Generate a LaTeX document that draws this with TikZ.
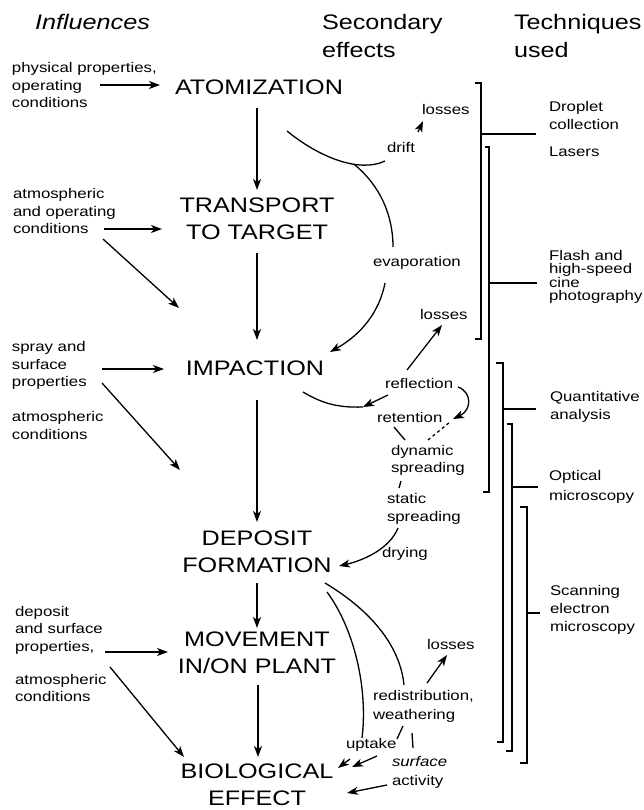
\documentclass[tikz,border=0pt]{standalone}
\usepackage{fontspec}
\setmainfont{Liberation Sans}[FakeStretch=1.2]
\usetikzlibrary{arrows.meta, calc}

\begin{document}
\begin{tikzpicture}[
      x=1pt, y=-1pt,
      every node/.style={inner sep=0pt, outer sep=0pt},
      head/.style={anchor=north west, align=left, font=\fontsize{21}{28}\selectfont},
      stage/.style={align=center, font=\fontsize{21}{27}\selectfont},
      small/.style={anchor=west, align=left, font=\fontsize{14}{17.5}\selectfont},
      conn/.style={line width=1.3pt},
      arrow/.style={conn, -{Stealth[length=11pt,width=8pt,inset=3pt]}},
      bracket/.style={line width=1.1pt}
    ]
      \useasboundingbox (0,0) rectangle (644,810);

      \node[head, font=\fontsize{21}{28}\selectfont\itshape] (hinf) at (35,14) {Influences};
      \node[head] (hsec) at (322,14) {Secondary\\effects};
      \node[head] (htech) at (514,14) {Techniques\\used};

      \node[stage] (atom) at (259,87) {ATOMIZATION};
      \node[stage] (trans) at (257,219) {TRANSPORT\\TO TARGET};
      \node[stage] (impact) at (255,368) {IMPACTION};
      \node[stage] (depos) at (257,552) {DEPOSIT\\FORMATION};
      \node[stage] (move) at (257,653) {MOVEMENT\\IN/ON PLANT};
      \node[stage] (bio) at (257,785) {BIOLOGICAL\\EFFECT};

      \node[small] (inphys) at (12,85) {physical properties,\\operating\\conditions};
      \node[small] (inatm) at (13,211) {atmospheric\\and operating\\conditions};
      \node[small] (inspray) at (12,365.5) {spray and\\surface\\properties};
      \node[small] (inatm2) at (12,425.5) {atmospheric\\conditions};
      \node[small] (indepo) at (15,630) {deposit\\and surface\\properties,};
      \node[small] (inatm3) at (15,688) {atmospheric\\conditions};

      \node[small] (loss1) at (422,109) {losses};
      \node[small] (drift) at (387,147) {drift};
      \node[small] (evap) at (373,263) {evaporation};
      \node[small] (loss2) at (420,314) {losses};
      \node[small] (refl) at (385,383) {reflection};
      \node[small] (reten) at (377,417) {retention};
      \node[small, font=\fontsize{14}{17}\selectfont] (dyn) at (391,460.5) {dynamic\\spreading};
      \node[small, font=\fontsize{14}{18}\selectfont] (stat) at (387,509) {static\\spreading};
      \node[small] (dry) at (382,554) {drying};
      \node[small] (loss3) at (427,644) {losses};
      \node[small, font=\fontsize{14}{19}\selectfont] (redis) at (373,706.5) {redistribution,\\weathering};
      \node[small] (uptake) at (346,745) {uptake};
      \node[small, font=\fontsize{14}{19}\selectfont] (surf) at (392,772.5) {\textit{surface}\\activity};

      \node[small] (tdrop) at (549,115.5) {Droplet\\collection};
      \node[small] (tlaser) at (549,152) {Lasers};
      \node[small, font=\fontsize{14}{13.5}\selectfont] (tflash) at (549,277) {Flash and\\high-speed\\cine\\photography};
      \node[small] (tquant) at (550,407) {Quantitative\\analysis};
      \node[small, font=\fontsize{14}{20}\selectfont] (topt) at (549,487) {Optical\\microscopy};
      \node[small, font=\fontsize{14}{18}\selectfont] (tsem) at (550,610) {Scanning\\electron\\microscopy};

      \draw[arrow] ($(atom)+(-2,21)$) -- ($(trans)+(0,-29)$);
      \draw[arrow] ($(trans)+(0,34)$) -- ($(impact)+(2,-28)$);
      \draw[arrow] ($(impact)+(2,32)$) -- ($(depos)+(0,-30)$);
      \draw[arrow] ($(depos)+(0,31)$) -- ($(move)+(0,-25)$);
      \draw[arrow] ($(move)+(1,32)$) -- ($(bio)+(1,-28)$);

      \draw[arrow] ($(inphys.west)+(88,0)$) -- ($(atom)+(-99,-2)$);
      \draw[arrow] ($(inatm.west)+(91,18)$) -- ($(trans)+(-95,10)$);
      \draw[arrow] ($(inatm.west)+(90,28)$) -- ($(impact)+(-76,-60)$);
      \draw[arrow] ($(inspray.west)+(90,3.5)$) -- ($(impact)+(-91,1)$);
      \draw[arrow] ($(inspray.west)+(90,17.5)$) -- ($(depos)+(-77,-82)$);
      \draw[arrow] ($(indepo.west)+(90,22)$) -- ($(move)+(-89,-1)$);
      \draw[arrow] ($(indepo.west)+(95,37)$) -- ($(bio)+(-73,-28)$);

      \draw[conn] ($(atom)+(28,44)$) .. controls +(33,27) and +(-25,12) .. ($(drift.west)+(-2,14)$)
        coordinate[pos=0.65] (drsplit);
      \draw[conn] (drsplit) .. controls +(26,21.5) and +(0,-32) .. ($(evap.west)+(20,-16)$);
      \draw[arrow] ($(drift.west)+(31,-15)$) -- ($(loss1.west)+(1,12)$);
      \draw[arrow] ($(evap.west)+(12,20)$) .. controls +(-7,35) and +(25,-14) .. ($(impact)+(75,-16)$);

      \coordinate (rejoin) at ($(reten.west)+(-14,-10)$);
      \draw[conn] ($(impact)+(48,24)$) .. controls +(17,10) and +(-28,1) .. (rejoin);
      \draw[arrow] ($(refl.west)+(3,12)$) -- (rejoin);
      \draw[arrow] ($(refl.west)+(22,-13)$) -- ($(loss2.west)+(22,11)$);
      \draw[arrow] ($(refl.west)+(73,4)$) .. controls +(14,5) and +(19,-9) .. ($(reten.west)+(76,2)$);
      \draw[conn] ($(reten.west)+(17,10)$) -- ($(dyn.west)+(14,-20.5)$);
      \draw[conn, dashed] ($(dyn.west)+(37,-20.5)$) -- ($(reten.west)+(73,5)$);
      \draw[conn] ($(dyn.west)+(10,20.5)$) -- ($(stat.west)+(12,-21)$);
      \draw[arrow] ($(stat.west)+(11,19)$) .. controls +(-8,20) and +(26,-6) .. ($(depos)+(82,14)$);

      \draw[conn] ($(depos)+(68,31)$) .. controls +(45,27) and +(-4,-40) .. ($(redis.west)+(31,-21.5)$);
      \draw[conn] ($(depos)+(70,40)$) .. controls +(28,38) and +(6,-48) .. ($(uptake.west)+(16,-7)$);
      \draw[arrow] ($(redis.west)+(54,-23.5)$) -- ($(loss3.west)+(20,11)$);
      \draw[conn] ($(redis.west)+(30,19.5)$) -- ($(uptake.west)+(51,-6)$);
      \draw[conn] ($(redis.west)+(39,26.5)$) -- ($(surf.west)+(21,-24.5)$);
      \draw[arrow] ($(uptake.west)+(4,14)$) -- ($(bio)+(81,-17)$);
      \draw[arrow] ($(uptake.west)+(31,11)$) -- ($(bio)+(95,-18)$);
      \draw[arrow] ($(surf.west)+(-5,12.5)$) -- ($(bio)+(90,8)$);

      \draw[bracket] (475,83) -- (481,83) -- (481,339) -- (475,339);
      \draw[bracket] (485,147) -- (489,147) -- (489,492) -- (483,492);
      \draw[bracket] (496,363) -- (503,363) -- (503,742) -- (497,742);
      \draw[bracket] (507,424) -- (512,424) -- (512,751) -- (506,751);
      \draw[bracket] (520,507) -- (527,507) -- (527,763) -- (520,763);
      \draw[bracket] (481,134) -- ($(tdrop.west)+(-13,18.5)$);
      \draw[bracket] (489,283) -- ($(tflash.west)+(-12,6)$);
      \draw[bracket] (503,409) -- ($(tquant.west)+(-14,2)$);
      \draw[bracket] (512,487) -- ($(topt.west)+(-11,0)$);
      \draw[bracket] (527,613) -- ($(tsem.west)+(-10,3)$);
    \end{tikzpicture}
\end{document}
